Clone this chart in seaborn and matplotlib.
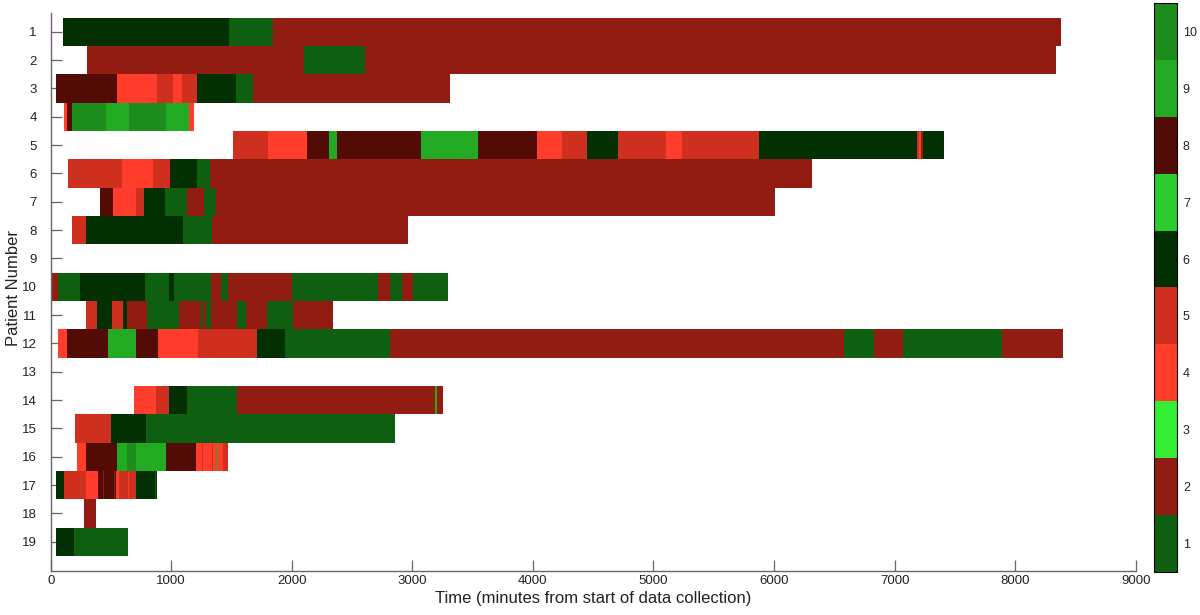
import numpy as np
import matplotlib
matplotlib.use("Agg")
import matplotlib.pyplot as plt
from matplotlib.colors import ListedColormap
import seaborn as sns

# ---- data ----
state_colors = ['#0f5f10', '#921c12', '#33ee33', '#ff3d2a', '#cf2f1f',
                '#023002', '#2ccc2c', '#520b05', '#22ab22', '#1c8c1c']
state_labels = list(range(1, 11))
patients = list(range(1, 20))
time_ticks = list(range(0, 9001, 1000))

# segment boundaries (minutes) and the state of each segment, per patient
p01_t = [100, 1480, 1845, 8380]
p01_s = [6, 1, 2]
p02_t = [305, 2100, 2605, 8340]
p02_s = [2, 1, 2]
p03_t = [44, 550, 880, 1015, 1085, 1215, 1537, 1676, 3312]
p03_s = [8, 4, 5, 4, 5, 6, 1, 2]
p04_t = [110, 133, 177, 459, 649, 956, 1147, 1189]
p04_s = [4, 8, 10, 9, 10, 9, 4]
p05_t = [1512, 1800, 2126, 2306, 2372, 3069, 3544, 4031, 4239, 4449, 4703,
         5100, 5237, 5876, 7186, 7206, 7219, 7236, 7411]
p05_s = [5, 4, 8, 9, 8, 9, 8, 4, 5, 6, 5, 4, 5, 6, 5, 4, 2, 6]
p06_t = [141, 591, 846, 990, 1214, 1322, 6315]
p06_s = [5, 4, 5, 6, 1, 2]
p07_t = [409, 517, 711, 774, 948, 1128, 1272, 1371, 6008]
p07_s = [8, 4, 5, 6, 1, 2, 1, 2]
p08_t = [177, 293, 1095, 1340, 2961]
p08_s = [5, 6, 1, 2]
p09_t = []
p09_s = []
p10_t = [0, 63, 246, 782, 984, 1020, 1327, 1413, 1473, 2004, 2712, 2815,
         2914, 3008, 3293]
p10_s = [2, 1, 6, 1, 6, 1, 2, 1, 2, 1, 2, 1, 2, 1]
p11_t = [290, 381, 506, 597, 630, 796, 1067, 1247, 1262, 1290, 1330, 1548,
         1618, 1792, 2012, 2344]
p11_s = [5, 6, 5, 6, 2, 1, 2, 1, 2, 1, 2, 1, 2, 1, 2]
p12_t = [61, 133, 475, 708, 890, 1222, 1711, 1943, 2815, 6581, 6830, 7072,
         7889, 8400]
p12_s = [4, 8, 9, 8, 4, 5, 6, 1, 2, 1, 2, 1, 2]
p13_t = []
p13_s = []
p14_t = [691, 874, 984, 1133, 1543, 3190, 3203, 3254]
p14_s = [4, 5, 6, 1, 2, 9, 2]
p15_t = [199, 503, 793, 2856]
p15_s = [5, 6, 1]
p16_t = [215, 290, 547, 635, 708, 954, 1203, 1258, 1266, 1335, 1345, 1374,
         1382, 1432, 1468]
p16_s = [4, 8, 9, 10, 9, 8, 4, 5, 4, 5, 4, 9, 4, 5]
p17_t = [44, 108, 292, 395, 405, 412, 432, 440, 522, 530, 542, 563, 640,
         650, 705, 866, 873, 882]
p17_s = [6, 5, 4, 8, 2, 8, 2, 8, 2, 8, 4, 5, 4, 5, 6, 1, 6]
p18_t = [276, 376]
p18_s = [2]
p19_t = [44, 196, 644]
p19_s = [6, 1]

all_t = [p01_t, p02_t, p03_t, p04_t, p05_t, p06_t, p07_t, p08_t, p09_t, p10_t,
         p11_t, p12_t, p13_t, p14_t, p15_t, p16_t, p17_t, p18_t, p19_t]
all_s = [p01_s, p02_s, p03_s, p04_s, p05_s, p06_s, p07_s, p08_s, p09_s, p10_s,
         p11_s, p12_s, p13_s, p14_s, p15_s, p16_s, p17_s, p18_s, p19_s]

# ---- build minute-resolution state matrix ----
n_min = time_ticks[-1]
mat = np.full((len(patients), n_min), np.nan)
for i, (tt, ss) in enumerate(zip(all_t, all_s)):
    for a, b, st in zip(tt[:-1], tt[1:], ss):
        mat[i, int(a):int(b)] = st

# ---- style ----
sns.set_style("white")
plt.rcParams['font.family'] = ['Liberation Sans', 'DejaVu Sans']

W, H = 1200, 615
fig = plt.figure(figsize=(W / 100, H / 100), dpi=100)
ax = fig.add_axes([50.7 / W, 1 - 571 / H, (1135.7 - 50.7) / W, (571 - 12.7) / H])
cax = fig.add_axes([1154 / W, 1 - 571.7 / H, 23.3 / W, (571.7 - 3.3) / H])

cmap = ListedColormap(state_colors)
sns.heatmap(mat, ax=ax, cbar_ax=cax, cmap=cmap, vmin=0.5, vmax=10.5,
            xticklabels=False, yticklabels=False, linewidths=0)

ax.set_xlim(0, n_min)
ax.set_ylim(19.53, -0.17)
ax.set_xticks(time_ticks)
ax.set_xticklabels([str(t) for t in time_ticks])
ax.set_yticks([p - 0.5 for p in patients])
ax.set_yticklabels([str(p) for p in patients])

for side in ['left', 'bottom']:
    ax.spines[side].set_visible(True)
    ax.spines[side].set_color('#666666')
    ax.spines[side].set_linewidth(1.0)
for side in ['top', 'right']:
    ax.spines[side].set_visible(False)

ax.tick_params(axis='both', direction='in', length=8, width=0.9,
               color='#666666', labelcolor='#222222', labelsize=9.5)
ax.tick_params(axis='y', pad=10, left=True)
ax.tick_params(axis='x', pad=3, bottom=True)

ax.set_xlabel('Time (minutes from start of data collection)', fontsize=12,
              color='#222222', labelpad=3)
ax.set_ylabel('Patient Number', fontsize=12, color='#222222')
ax.yaxis.set_label_coords(-0.0275, 0.507)

cb = ax.collections[0].colorbar
cb.set_ticks(state_labels)
cb.set_ticklabels([str(s) for s in state_labels])
cb.outline.set_visible(True)
cb.outline.set_linewidth(0.8)
cb.outline.set_edgecolor('black')
cax.tick_params(axis='y', direction='in', length=4, width=0.8, color='black',
                left=True, right=True, labelsize=9, labelcolor='#222222', pad=4)

fig.savefig('out.png', dpi=100)
